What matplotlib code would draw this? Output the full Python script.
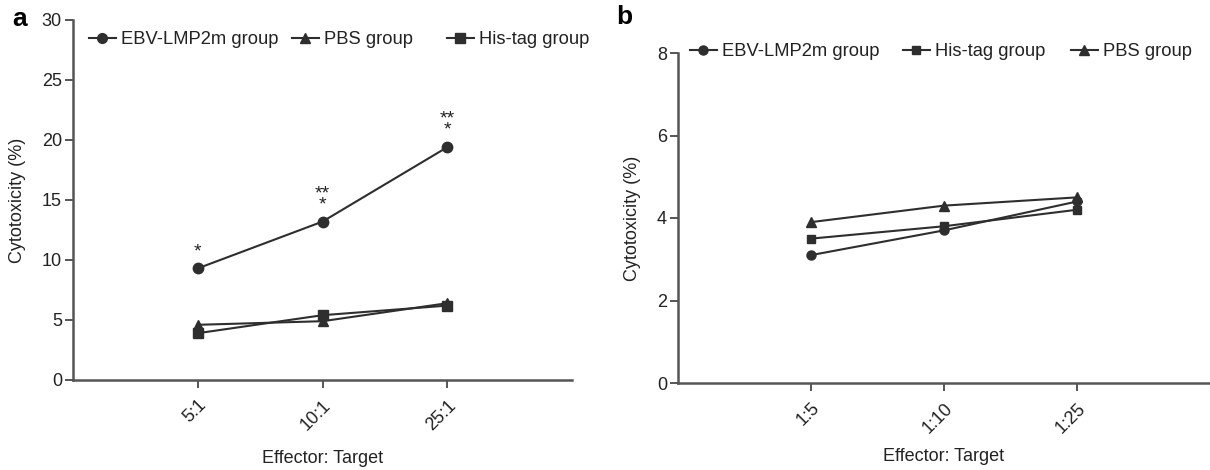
import matplotlib
matplotlib.use("Agg")
import matplotlib.pyplot as plt
from matplotlib.lines import Line2D
from matplotlib.legend import Legend

plt.rcParams['font.family'] = ['Liberation Sans', 'DejaVu Sans']

# ---- data ----
ratios_a = ["5:1", "10:1", "25:1"]
ebv_a = [9.3, 13.2, 19.4]
pbs_a = [4.6, 4.9, 6.4]
his_a = [3.9, 5.4, 6.2]
stars_a = ["*", "**\n*", "**\n*"]

ratios_b = ["1:5", "1:10", "1:25"]
ebv_b = [3.1, 3.7, 4.4]
his_b = [3.5, 3.8, 4.2]
pbs_b = [3.9, 4.3, 4.5]

W, H = 1210, 470
fig = plt.figure(figsize=(W / 100, H / 100), dpi=100)

def px(x0, y0, x1, y1):
    return [x0 / W, 1 - y1 / H, (x1 - x0) / W, (y1 - y0) / H]

LC = "#2e2e2e"
SC = "#555555"
TC = "#222222"
FS = 13

def style(ax, ymax, yticks, labels, xpad):
    for s in ["top", "right"]:
        ax.spines[s].set_visible(False)
    for s in ["left", "bottom"]:
        ax.spines[s].set_color(SC)
        ax.spines[s].set_linewidth(1.8)
    ax.set_xlim(-1, 3)
    ax.set_ylim(0, ymax)
    ax.set_yticks(yticks)
    ax.set_xticks(range(len(labels)))
    ax.set_xticklabels(labels, rotation=45, ha="right", rotation_mode="anchor")
    ax.tick_params(axis="both", colors=SC, labelcolor=TC, labelsize=FS,
                   width=1.4, length=6)
    ax.tick_params(axis="x", pad=6)
    ax.tick_params(axis="y", pad=2)
    ax.set_ylabel("Cytotoxicity (%)", fontsize=FS, color=TC, labelpad=11)
    ax.set_xlabel("Effector: Target", fontsize=FS, color=TC, labelpad=xpad)

def add_leg(ax, marker, label, x, y, ms):
    h = Line2D([], [], color=LC, marker=marker, markersize=ms, lw=1.5)
    leg = Legend(ax, [h], [label], loc="center left",
                 bbox_to_anchor=(x / W, 1 - y / H), bbox_transform=fig.transFigure,
                 frameon=False, fontsize=13.2, handlelength=1.45, handletextpad=0.3,
                 borderpad=0, borderaxespad=0)
    for t in leg.get_texts():
        t.set_color(TC)
    ax.add_artist(leg)

# ---- panel a ----
axa = fig.add_axes(px(73, 20, 572, 380))
xa = list(range(len(ratios_a)))
axa.plot(xa, ebv_a, color=LC, marker="o", ms=7.5, lw=1.5, zorder=3)
axa.plot(xa, pbs_a, color=LC, marker="^", ms=7.5, lw=1.5, zorder=3)
axa.plot(xa, his_a, color=LC, marker="s", ms=7, lw=1.5, zorder=3)
style(axa, 30, [0, 5, 10, 15, 20, 25, 30], ratios_a, 12)
for xi, yi, s in zip(xa, ebv_a, stars_a):
    axa.annotate(s, (xi, yi), xytext=(0, 6), textcoords="offset points",
                 ha="center", va="bottom", fontsize=14, linespacing=0.55,
                 color=TC)
add_leg(axa, "o", "EBV-LMP2m group", 89, 40, 7)
add_leg(axa, "^", "PBS group", 292, 40, 7)
add_leg(axa, "s", "His-tag group", 447, 40, 6.5)
fig.text(12 / W, 1 - 19 / H, "a", fontsize=19, fontweight="bold", va="center", ha="left")

# ---- panel b ----
axb = fig.add_axes(px(678, 53, 1210, 383))
xb = list(range(len(ratios_b)))
axb.plot(xb, ebv_b, color=LC, marker="o", ms=6.5, lw=1.5, zorder=3)
axb.plot(xb, his_b, color=LC, marker="s", ms=6, lw=1.5, zorder=3)
axb.plot(xb, pbs_b, color=LC, marker="^", ms=6.5, lw=1.5, zorder=3)
style(axb, 8, [0, 2, 4, 6, 8], ratios_b, 8)
add_leg(axb, "o", "EBV-LMP2m group", 690, 52, 6.5)
add_leg(axb, "s", "His-tag group", 903, 52, 6)
add_leg(axb, "^", "PBS group", 1071, 52, 6.5)
fig.text(616 / W, 1 - 17 / H, "b", fontsize=19, fontweight="bold", va="center", ha="left")

fig.savefig("out.png", dpi=100)
